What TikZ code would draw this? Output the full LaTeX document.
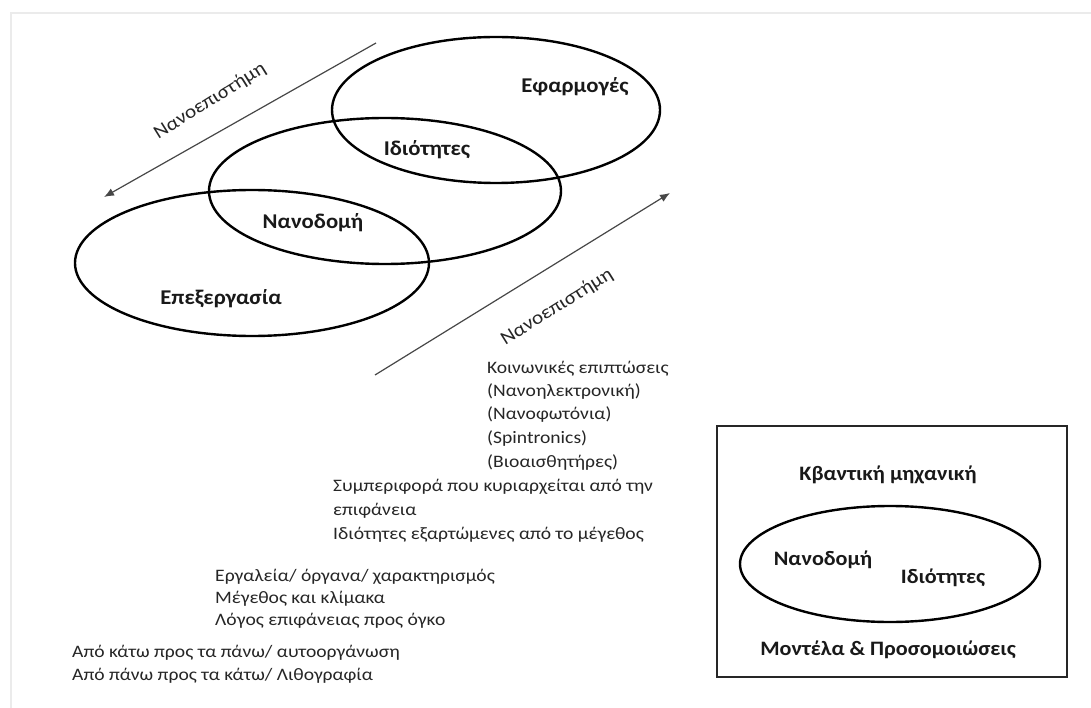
\documentclass[tikz,border=0pt]{standalone}
\usepackage{fontspec}
\setmainfont{Carlito}
\newfontfamily\labfont[FakeStretch=1.08]{Carlito}
\newfontfamily\bodyfont[FakeStretch=1.12]{Carlito}
\usetikzlibrary{arrows.meta,shapes.geometric}
\tikzset{
  oval/.style={draw=black, line width=2.4pt, ellipse, inner sep=0pt},
  lab/.style={font=\labfont\bfseries\fontsize{21}{25}\selectfont, text=black!90, inner sep=0pt},
  boxlab/.style={font=\labfont\bfseries\fontsize{20.5}{25}\selectfont, text=black!90, inner sep=0pt},
  body/.style={font=\bodyfont\fontsize{17.5}{22}\selectfont, text=black!85, anchor=west, inner sep=0pt, text height=12pt, text depth=4pt},
  sci/.style={font=\bodyfont\fontsize{19}{22}\selectfont, text=black!85, inner sep=0pt},
  flow/.style={draw=black!72, line width=1.2pt, -{Latex[length=10pt,width=8pt]}},
}
\begin{document}
\begin{tikzpicture}[x=1pt,y=-1pt]
\useasboundingbox (0,0) rectangle (1091,708);
\fill[white] (0,0) rectangle (1091,708);
% faint frame
\draw[black!8, line width=2pt] (11,708) -- (11,13) -- (1091,13);

% ellipses
\node[oval, minimum width=328pt, minimum height=146pt] (eapp) at (496,110) {};
\node[oval, minimum width=352pt, minimum height=146pt] (emid) at (385,191) {};
\node[oval, minimum width=354pt, minimum height=146pt] (eproc) at (252,263) {};

\node[lab] (tapp) at (575,87) {Εφαρμογές};
\node[lab] (tprop) at (427,150) {Ιδιότητες};
\node[lab] (tnano) at (313,223) {Νανοδομή};
\node[lab] (tproc) at (221,299) {Επεξεργασία};

% arrows
\coordinate (a1s) at (376,43);
\coordinate (a1e) at (104,197);
\draw[flow] (a1s) -- (a1e);
\node[sci, rotate=32] (sci1) at (210,101) {Νανοεπιστήμη};

\coordinate (a2s) at (375,375);
\coordinate (a2e) at (670,193);
\draw[flow] (a2s) -- (a2e);
\node[sci, rotate=32] (sci2) at (557,307) {Νανοεπιστήμη};

% text blocks
\node[body] (l1) at (487,369) {Κοινωνικές επιπτώσεις};
\node[body] (l2) at (487,392) {(Νανοηλεκτρονική)};
\node[body] (l3) at (487,415) {(Νανοφωτόνια)};
\node[body] (l4) at (487,439) {(Spintronics)};
\node[body] (l5) at (487,463) {(Βιοαισθητήρες)};
\node[body] (l6) at (333,487) {Συμπεριφορά που κυριαρχείται από την};
\node[body] (l7) at (333,511) {επιφάνεια};
\node[body] (l8) at (333,535) {Ιδιότητες εξαρτώμενες από το μέγεθος};
\node[body] (l9) at (215,577) {Εργαλεία/ όργανα/ χαρακτηρισμός};
\node[body] (l10) at (215,599) {Μέγεθος και κλίμακα};
\node[body] (l11) at (215,621) {Λόγος επιφάνειας προς όγκο};
\node[body] (l12) at (72,653) {Από κάτω προς τα πάνω/ αυτοοργάνωση};
\node[body] (l13) at (72,676) {Από πάνω προς τα κάτω/ Λιθογραφία};

% right box
\node[draw=black!85, line width=2.4pt, minimum width=350pt, minimum height=251pt, inner sep=0pt] (box) at (892,551.5) {};
\node[oval, minimum width=300pt, minimum height=116pt] (ebox) at (890,564) {};
\node[boxlab] (kv) at (888,475) {Κβαντική μηχανική};
\node[boxlab] (bn) at (823,560) {Νανοδομή};
\node[boxlab] (bp) at (943,578) {Ιδιότητες};
\node[boxlab] (mod) at (888,650) {Μοντέλα \& Προσομοιώσεις};
\end{tikzpicture}
\end{document}
